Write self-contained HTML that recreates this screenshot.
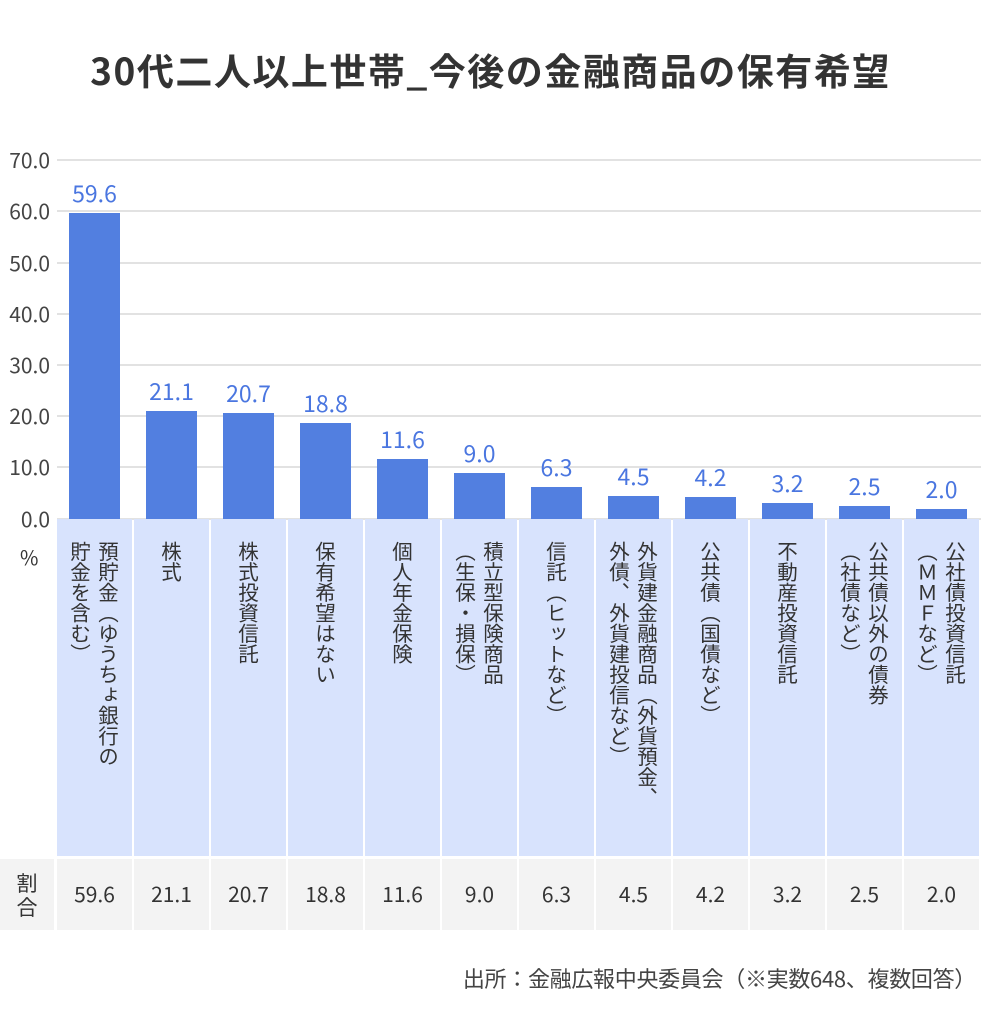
<!DOCTYPE html>
<html><head><meta charset="utf-8"><style>
body{margin:0;width:981px;height:1033px;background:#fff;font-family:"Noto Sans CJK JP","Liberation Sans",sans-serif;color:#333;position:relative;overflow:hidden}
.a{position:absolute}
.t{left:0;width:981px;top:44px;text-align:center;font-size:37px;letter-spacing:1.5px;font-weight:bold;color:#333;line-height:50px}
.yl{width:50px;text-align:right;font-size:21px;color:#444;left:0;line-height:24px}
.g{left:57px;width:924px;height:2px;background:#e2e2e2}
.bar{background:#527fe0;width:51px}
.v{width:77px;text-align:center;font-size:23px;color:#4a76e0;line-height:28px}
.lc{background:#d8e3fd;top:519px;height:337px;width:75px;text-align:center}
.vt{writing-mode:vertical-rl;display:inline-block;font-size:20.5px;line-height:28px;color:#333;margin-top:22px;white-space:nowrap;text-align:left}
.tc{background:#f3f3f3;top:859px;height:71px;width:75px;text-align:center;line-height:71px;font-size:21px;color:#333}
</style></head><body>
<div class="a t">30代二人以上世帯_今後の金融商品の保有希望</div>
<div class="a yl" style="top:148px">70.0</div>
<div class="a yl" style="top:199px">60.0</div>
<div class="a yl" style="top:251px">50.0</div>
<div class="a yl" style="top:302px">40.0</div>
<div class="a yl" style="top:353px">30.0</div>
<div class="a yl" style="top:404px">20.0</div>
<div class="a yl" style="top:455px">10.0</div>
<div class="a yl" style="top:507px">0.0</div>
<div class="a" style="left:20px;top:542px;font-size:20px">%</div>
<div class="a g" style="top:159px"></div><div class="a g" style="top:210px"></div><div class="a g" style="top:262px"></div><div class="a g" style="top:313px"></div><div class="a g" style="top:364px"></div><div class="a g" style="top:415px"></div><div class="a g" style="top:466px"></div><div class="a g" style="top:518px"></div>
<div id="c"></div>
<div class="a" style="left:0;top:859px;width:54px;height:71px;background:#f3f3f3;display:flex;align-items:center;justify-content:center;font-size:21px;line-height:24px;text-align:center">割<br>合</div>
<div class="a" style="right:5px;top:962px;font-size:22px;color:#444;letter-spacing:-0.3px">出所：金融広報中央委員会（※実数648、複数回答）</div>
<script>
var d=[[59.6,["預貯金（ゆうちょ銀行の","貯金を含む）"]],[21.1,["株式"]],[20.7,["株式投資信託"]],[18.8,["保有希望はない"]],[11.6,["個人年金保険"]],[9.0,["積立型保険商品","（生保・損保）"]],[6.3,["信託（ヒットなど）"]],[4.5,["外貨建金融商品（外貨預金、","外債、外貨建投信など）"]],[4.2,["公共債（国債など）"]],[3.2,["不動産投資信託"]],[2.5,["公共債以外の債券","（社債など）"]],[2.0,["公社債投資信託","（ＭＭＦなど）"]]];
var h="";
d.forEach(function(e,i){var x=57+i*77,hh=e[0]*5.13,top=519-hh;
h+='<div class="a bar" style="left:'+(x+12)+'px;top:'+top+'px;height:'+hh+'px"></div>';
h+='<div class="a v" style="left:'+(x-1)+'px;top:'+(top-35)+'px">'+e[0].toFixed(1)+'</div>';
h+='<div class="a lc" style="left:'+x+'px"><div class="vt">'+e[1].join('<br>')+'</div></div>';
h+='<div class="a tc" style="left:'+x+'px">'+e[0].toFixed(1)+'</div>';});
document.getElementById("c").innerHTML=h;
</script>
</body></html>
